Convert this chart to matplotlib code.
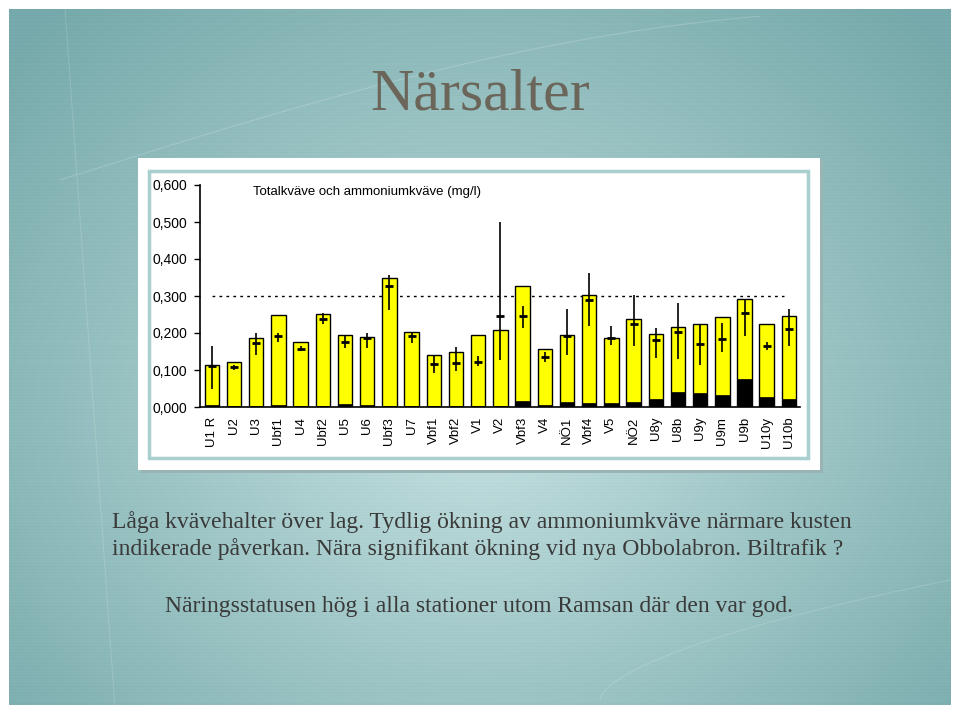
import numpy as np
import matplotlib.pyplot as plt
from matplotlib.patches import Rectangle

# Stationer och värden (mg/l)
stations = ["U1 R", "U2", "U3", "Ubf1", "U4", "Ubf2", "U5", "U6", "Ubf3", "U7",
            "Vbf1", "Vbf2", "V1", "V2", "Vbf3", "V4", "NÖ1", "Vbf4", "V5", "NÖ2",
            "U8y", "U8b", "U9y", "U9m", "U9b", "U10y", "U10b"]
tot_n = [0.114, 0.121, 0.186, 0.248, 0.177, 0.251, 0.195, 0.189, 0.349, 0.203,
         0.141, 0.150, 0.195, 0.207, 0.328, 0.157, 0.195, 0.302, 0.186, 0.239,
         0.198, 0.216, 0.224, 0.243, 0.293, 0.224, 0.246]
nh4_n = [0.006, 0.003, 0.004, 0.005, 0.003, 0.004, 0.008, 0.005, 0.003, 0.004,
         0.002, 0.002, 0.002, 0.002, 0.015, 0.005, 0.013, 0.010, 0.010, 0.013,
         0.022, 0.041, 0.038, 0.032, 0.077, 0.027, 0.022]
mid_n = [0.110, 0.108, 0.173, 0.191, 0.157, 0.238, 0.175, 0.186, 0.326, 0.193,
         0.117, 0.119, 0.121, 0.247, 0.247, 0.135, 0.191, 0.288, 0.186, 0.223,
         0.182, 0.202, 0.170, 0.184, 0.253, 0.166, 0.211]
lo_n = [0.049, 0.100, 0.141, 0.177, 0.151, 0.225, 0.159, 0.159, 0.263, 0.173,
        0.092, 0.096, 0.110, 0.126, 0.213, 0.121, 0.141, 0.218, 0.168, 0.166,
        0.132, 0.130, 0.114, 0.148, 0.193, 0.153, 0.166]
hi_n = [0.164, 0.114, 0.200, 0.201, 0.164, 0.254, 0.191, 0.200, 0.357, 0.204,
        0.141, 0.162, 0.137, 0.501, 0.272, 0.148, 0.265, 0.362, 0.220, 0.302,
        0.213, 0.282, 0.224, 0.228, 0.291, 0.175, 0.265]
limit = 0.300
yticks = [0.0, 0.1, 0.2, 0.3, 0.4, 0.5, 0.6]

W, H = 960, 716
fig = plt.figure(figsize=(W / 100, H / 100), dpi=100)
fig.patch.set_facecolor("white")

# bakgrund i pixelkoordinater
bg = fig.add_axes([0, 0, 1, 1])
bg.set_xlim(0, W)
bg.set_ylim(H, 0)
bg.axis("off")

yy, xx = np.mgrid[0:H, 0:W]
r = np.sqrt(((xx - 480) / 640.0) ** 2 + ((yy - 420) / 540.0) ** 2)
r = np.clip(r, 0, 1)
c_in = np.array([0.77, 0.88, 0.88])
c_out = np.array([0.47, 0.67, 0.675])
img = c_in[None, None, :] * (1 - r[..., None]) + c_out[None, None, :] * r[..., None]
img = img - 0.012 * (np.sin(yy * 2.2)[..., None] > 0.6)
im = bg.imshow(np.clip(img, 0, 1), extent=[0, W, H, 0], zorder=0)
card = Rectangle((9, 9), 942, 696, transform=bg.transData)
im.set_clip_path(card)

# svaga ljusa bågar
t = np.linspace(0, 1, 200)
bg.plot(60 + 700 * t, 180 - 170 * np.sin(t * 1.3), color="white", alpha=0.18, lw=0.8, zorder=1)
bg.plot(65 + 50 * t, 8 + 700 * t, color="white", alpha=0.15, lw=0.8, zorder=1)
bg.plot(600 + 350 * t, 700 - 120 * t ** 0.6, color="white", alpha=0.15, lw=0.8, zorder=1)

bg.text(480, 110, "Närsalter", ha="center", va="baseline", fontsize=43,
        family="Liberation Serif", color="#6b655a", zorder=3)

# diagrampanel
bg.add_patch(Rectangle((141, 161), 682, 312, facecolor="#9ab3b3", edgecolor="none", zorder=1))
bg.add_patch(Rectangle((138, 158), 682, 312, facecolor="white", edgecolor="none", zorder=2))
bg.add_patch(Rectangle((149, 171), 659, 287, facecolor="white", edgecolor="#a9cfcf",
                       lw=2.5, zorder=2))

txt = dict(family="Liberation Serif", fontsize=17, color="#3a3a3a", va="baseline", zorder=3)
bg.text(112, 528, "Låga kvävehalter över lag. Tydlig ökning av ammoniumkväve närmare kusten", **txt)
bg.text(112, 555, "indikerade påverkan. Nära signifikant ökning vid nya Obbolabron. Biltrafik ?", **txt)
bg.text(479, 612, "Näringsstatusen hög i alla stationer utom Ramsan där den var god.", ha="center", **txt)

# diagrammet
ax = fig.add_axes([200 / W, 1 - 407 / H, 600 / W, 222 / H])
ax.patch.set_alpha(0)
x = np.arange(len(stations))
ax.bar(x, tot_n, width=0.65, color="#ffff00", edgecolor="black", linewidth=1, zorder=2)
ax.bar(x, nh4_n, width=0.65, color="black", edgecolor="black", linewidth=0.5, zorder=3)
mid = np.array(mid_n)
err = [mid - np.array(lo_n), np.array(hi_n) - mid]
ax.errorbar(x, mid, yerr=err, fmt="_", color="black", ecolor="black", elinewidth=1.2,
            markersize=6, markeredgewidth=2, capsize=0, zorder=4)
ax.plot([0, 25.8], [limit, limit], color="black", lw=1, linestyle=(0, (2, 3)), zorder=1)

ax.set_xlim(-0.53, 26.5)
ax.set_ylim(0, 0.6)
ax.set_yticks(yticks)
ax.set_yticklabels([f"{v:.3f}".replace(".", ",") for v in yticks],
                   family="Liberation Sans", fontsize=10)
ax.set_xticks(x)
ax.set_xticklabels(stations, rotation=90, family="Liberation Sans", fontsize=9.5)
ax.tick_params(axis="x", length=0, pad=7)
ax.tick_params(axis="y", length=4, width=1, pad=5)
for s in ["top", "right"]:
    ax.spines[s].set_visible(False)
ax.spines["left"].set_linewidth(1.2)
ax.spines["bottom"].set_linewidth(1.2)
ax.text((253 - 200) / 600, 0.97, "Totalkväve och ammoniumkväve (mg/l)",
        transform=ax.transAxes, family="Liberation Sans", fontsize=9.5, va="center")

fig.savefig("out.png", dpi=100)
